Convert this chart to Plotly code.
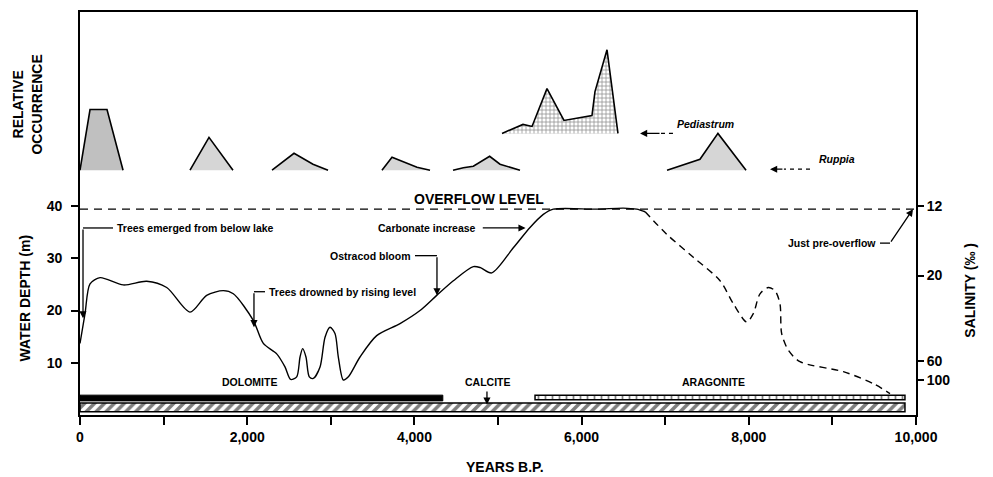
import plotly.graph_objects as go

# ---------------- data ----------------
# water depth curve (years B.P., metres)
solid_years = [0, 60, 120, 240, 518, 798, 1037, 1316, 1515, 1715, 1834, 2073, 2193, 2353, 2452, 2520,
               2592, 2632, 2663, 2703, 2743, 2791, 2871, 2931, 2990, 3050, 3090, 3150, 3210, 3349,
               3549, 3828, 4067, 4267, 4466, 4705, 4790, 4925, 5183, 5383, 5542, 5662, 6180, 6499, 6659, 6760]
solid_depth = [13.7, 19.4, 25.1, 26.3, 24.9, 25.6, 24.4, 19.7, 22.9, 23.8, 23.2, 18.1, 13.7, 11.7, 9.2, 6.8,
               7.3, 11.1, 12.7, 11.1, 7.3, 7.0, 9.2, 14.9, 16.8, 15.6, 11.1, 6.7, 7.3, 11.1,
               15.2, 17.5, 20.0, 22.9, 25.7, 28.4, 28.2, 27.2, 32.0, 35.9, 38.4, 39.4, 39.4, 39.6, 39.4, 38.9]
dashed_years = [6760, 7018, 7336, 7656, 7815, 7975, 8054, 8134, 8233, 8313, 8373, 8393, 8473, 8612,
                9131, 9490, 9689]
dashed_depth = [38.9, 34.6, 30.2, 25.7, 21.3, 17.8, 19.4, 23.2, 24.4, 23.8, 21.3, 15.6, 12.4, 10.2,
                8.3, 6.0, 4.1]
overflow_level = 39.4

# salinity scale (right axis) and its equivalent depth
salinity_ticks = [12, 20, 60, 100]
salinity_depth = [40, 26.7, 10.3, 6.7]

# relative occurrence (arbitrary units)
ruppia_years = [[0, 120, 323, 515],
                [1316, 1543, 1830],
                [2297, 2560, 2787, 2967],
                [3612, 3732, 4031, 4187],
                [4462, 4585, 4705, 4900, 5024, 5263],
                [7022, 7416, 7631, 7967]]
ruppia_occ = [[0, 61, 61, 0],
              [0, 33, 0],
              [0, 17, 6, 0],
              [0, 13, 3, 0],
              [0, 2.5, 4, 14, 6, 0],
              [0, 11, 37, 0]]
pediastrum_years = [5048, 5299, 5407, 5586, 5789, 6124, 6160, 6304, 6435]
pediastrum_occ = [0, 9, 7, 45, 13, 18, 42, 84, 0]

# mineralogy bars (years B.P.)
minerals = ["DOLOMITE", "ARAGONITE", "CALCITE"]
mineral_start = [0, 5443, 0]
mineral_end = [4340, 9868, 9868]

# ---------------- styling constants ----------------
FONT = "Arial"
RUPPIA_BASE = 246
PEDI_BASE = 283

fig = go.Figure()

# occurrence polygons
for i, (yrs, occ) in enumerate(zip(ruppia_years, ruppia_occ)):
    fig.add_trace(go.Scatter(
        x=yrs, y=[RUPPIA_BASE + v for v in occ], yaxis="y3", mode="lines",
        fill="toself", fillcolor="#c0c0c0" if i == 0 else "#d6d6d6",
        line=dict(color="black", width=1.6), hoverinfo="skip", showlegend=False))
fig.add_trace(go.Scatter(
    x=pediastrum_years, y=[PEDI_BASE + v for v in pediastrum_occ], yaxis="y3", mode="lines",
    fill="toself", fillcolor="white",
    fillpattern=dict(shape="+", fgcolor="#222222", bgcolor="white", size=4, solidity=0.35),
    line=dict(color="black", width=1.6), hoverinfo="skip", showlegend=False))

# overflow level
fig.add_trace(go.Scatter(x=[0, 10000], y=[overflow_level, overflow_level], mode="lines",
                         line=dict(color="black", width=1.4, dash="8px,6px"),
                         hoverinfo="skip", showlegend=False))

# depth curve
fig.add_trace(go.Scatter(x=solid_years, y=solid_depth, mode="lines",
                         line=dict(color="black", width=1.4, shape="spline", smoothing=0.8),
                         hoverinfo="skip", showlegend=False))
fig.add_trace(go.Scatter(x=dashed_years, y=dashed_depth, mode="lines",
                         line=dict(color="black", width=1.4, dash="7px,5px", shape="spline", smoothing=0.8),
                         hoverinfo="skip", showlegend=False))

# mineral bars
bar_style = {
    "DOLOMITE": dict(y=3.25, w=1.1, marker=dict(color="black", line=dict(color="black", width=1))),
    "ARAGONITE": dict(y=3.35, w=0.9, marker=dict(color="white", line=dict(color="black", width=1.5),
                                                  pattern=dict(shape="|", fgcolor="black", bgcolor="white",
                                                               size=7, solidity=0.25))),
    "CALCITE": dict(y=1.45, w=1.7, marker=dict(color="white", line=dict(color="black", width=1.5),
                                                pattern=dict(shape="/", fgcolor="black", bgcolor="white",
                                                             size=7, solidity=0.5))),
}
for name, s, e in zip(minerals, mineral_start, mineral_end):
    st = bar_style[name]
    fig.add_trace(go.Bar(orientation="h", y=[st["y"]], x=[e - s], base=[s], width=[st["w"]],
                         marker=st["marker"], hoverinfo="skip", showlegend=False))

# ---------------- annotations ----------------
bold = dict(family=FONT, size=10.5, color="black", weight="bold")
ann = []


def text(x, y, t, xanchor="center", yref="y", font=None):
    ann.append(dict(x=x, y=y, xref="x", yref=yref, text=t, showarrow=False,
                    xanchor=xanchor, yanchor="middle", font=font or bold))


def arrow(x0, y0, x1, y1, yref="y"):
    ann.append(dict(x=x1, y=y1, ax=x0, ay=y0, xref="x", yref=yref, axref="x", ayref=yref,
                    text="", showarrow=True, arrowhead=2, arrowsize=1.1, arrowwidth=1.3,
                    arrowcolor="black", standoff=0))


shapes = []


def seg(x0, y0, x1, y1, yref="y", dash="solid"):
    shapes.append(dict(type="line", x0=x0, y0=y0, x1=x1, y1=y1, xref="x", yref=yref,
                       line=dict(color="black", width=1.3, dash=dash)))


text(4773, 41.4, "OVERFLOW LEVEL", font=dict(family=FONT, size=14, color="black", weight="bold"))
text(419, 35.8, "Trees emerged from below lake", xanchor="left")
seg(395, 35.8, 36, 35.8)
arrow(36, 35.8, 36, 18.5)
text(4761, 35.8, "Carbonate increase", xanchor="right")
arrow(4800, 35.8, 5330, 35.8)
text(3983, 30.5, "Ostracod bloom", xanchor="right")
seg(4007, 30.5, 4270, 30.5)
arrow(4270, 30.5, 4270, 22.9)
text(2237, 23.6, "Trees drowned by rising level", xanchor="left")
seg(2213, 23.6, 2081, 23.6)
arrow(2081, 23.6, 2081, 16.8)
text(9545, 32.9, "Just pre-overflow", xanchor="right")
seg(9569, 32.9, 9689, 32.9)
arrow(9689, 32.9, 9964, 39.4)

text(2033, 6.3, "DOLOMITE")
text(4880, 6.3, "CALCITE")
arrow(4868, 4.8, 4868, 2.0)
text(7572, 6.3, "ARAGONITE")

ital = dict(family=FONT, size=10.5, color="black", weight="bold", style="italic")
text(7117, 292, "Pediastrum", xanchor="left", yref="y3", font=ital)
seg(7093, 283, 6950, 283, yref="y3", dash="4px,4px")
arrow(6950, 283, 6699, 283, yref="y3")
text(8816, 257, "Ruppia", xanchor="left", yref="y3", font=ital)
seg(8732, 247, 8420, 247, yref="y3", dash="4px,4px")
arrow(8420, 247, 8254, 247, yref="y3")

title_font = dict(family=FONT, size=14, color="black", weight="bold")
ann.append(dict(x=-0.0658, y=22.5, xref="paper", yref="y", text="WATER DEPTH (m)", textangle=-90,
                xanchor="center", yanchor="middle", showarrow=False, font=title_font))
ann.append(dict(x=-0.0634, y=312, xref="paper", yref="y3", text="RELATIVE<br>OCCURRENCE", textangle=-90,
                xanchor="center", yanchor="middle", showarrow=False, font=title_font))
ann.append(dict(x=1.0646, y=23.8, xref="paper", yref="y", text="SALINITY (‰ )", textangle=-90,
                xanchor="center", yanchor="middle", showarrow=False, font=title_font))
ann.append(dict(x=0.508, y=-0.128, xref="paper", yref="paper", text="YEARS B.P.",
                xanchor="center", yanchor="middle", showarrow=False, font=title_font))

tick_font = dict(family=FONT, size=14, color="black", weight="bold")
fig.update_layout(
    width=993, height=477, margin=dict(l=80, r=77, t=10, b=62),
    paper_bgcolor="white", plot_bgcolor="white", barmode="overlay",
    xaxis=dict(range=[0, 10000], tickvals=[0, 2000, 4000, 6000, 8000, 10000], tickformat=",",
               ticks="outside", ticklen=8, tickwidth=1.5, tickcolor="black",
               minor=dict(dtick=1000, ticks="outside", ticklen=8, tickwidth=1.5, tickcolor="black"),
               showline=True, linecolor="black", linewidth=1.8, mirror=True,
               showgrid=False, zeroline=False, tickfont=tick_font),
    yaxis=dict(range=[0, 77.14], tickvals=[10, 20, 30, 40], ticks="outside", ticklen=7, tickwidth=1.5,
               tickcolor="black", ticklabelstandoff=6,
               showline=True, linecolor="black", linewidth=1.8, mirror=True,
               showgrid=False, zeroline=False, tickfont=tick_font),
    yaxis2=dict(range=[0, 77.14], overlaying="y", side="right", tickvals=salinity_depth,
                ticktext=[str(v) for v in salinity_ticks], ticks="outside", ticklen=7, tickwidth=1.5,
                tickcolor="black", showline=False, showgrid=False, zeroline=False, tickfont=tick_font),
    yaxis3=dict(range=[0, 405], overlaying="y", visible=False, fixedrange=True),
    annotations=ann, shapes=shapes,
)
# dummy trace so that the right axis is drawn
fig.add_trace(go.Scatter(x=[None], y=[None], yaxis="y2", showlegend=False, hoverinfo="skip"))

fig.write_html("out.html")
